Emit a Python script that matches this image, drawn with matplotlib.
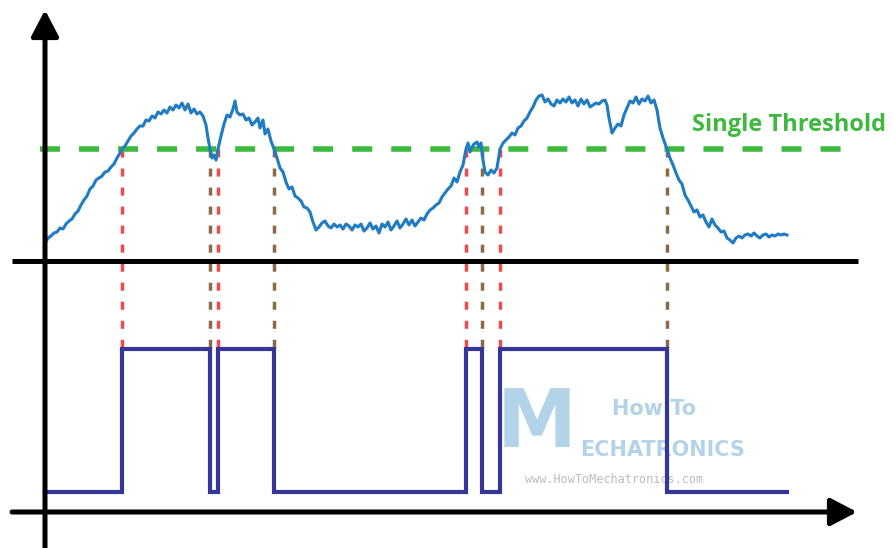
import matplotlib
matplotlib.use("Agg")
import matplotlib.pyplot as plt
import numpy as np

plt.rcParams["lines.scale_dashes"] = False

# Analog input signal (time, amplitude)
sig_t = [0, 3, 6, 9, 12, 15, 18, 21, 24, 27, 30, 33, 36, 39, 42, 45, 48, 51, 54, 57,
         60, 63, 66, 69, 72, 75, 77, 80, 83, 86, 89, 92, 95, 98, 101, 104, 107, 110, 113, 116,
         119, 122, 125, 128, 131, 134, 137, 140, 143, 146, 149, 152, 155, 158, 161, 163, 165, 167, 169, 171,
         173, 176, 179, 182, 185, 188, 190, 192, 195, 198, 201, 204, 207, 210, 213, 215, 218, 220, 223, 226,
         229, 232, 235, 238, 241, 244, 247, 250, 253, 256, 259, 262, 265, 268, 271, 274, 277, 280, 283, 286,
         289, 292, 295, 298, 301, 304, 307, 310, 313, 316, 319, 322, 325, 328, 331, 334, 337, 340, 343, 346,
         349, 352, 355, 358, 361, 364, 367, 370, 373, 376, 379, 382, 385, 388, 391, 394, 397, 400, 403, 406,
         409, 412, 415, 418, 421, 423, 425, 427, 429, 432, 434, 436, 438, 440, 443, 446, 449, 452, 455, 458,
         461, 464, 467, 470, 473, 476, 479, 482, 485, 488, 491, 494, 497, 500, 503, 506, 509, 512, 515, 518,
         521, 524, 527, 530, 533, 536, 539, 542, 545, 548, 551, 554, 557, 560, 562, 564, 567, 570, 573, 576,
         579, 582, 585, 588, 591, 594, 597, 600, 603, 606, 609, 612, 615, 618, 622, 625, 628, 631, 634, 637,
         640, 643, 646, 649, 652, 655, 658, 661, 664, 667, 670, 673, 676, 679, 682, 685, 688, 691, 694, 697,
         700, 703, 706, 709, 712, 715, 718, 721, 724, 727, 730, 733, 736, 739, 742]
sig_v = [18, 23, 25, 28, 29, 33, 32, 37, 40, 42, 47, 50, 56, 61, 65, 72, 75, 81, 83, 85,
         89, 90, 94, 97, 103, 108, 112, 115, 120, 125, 128, 132, 135, 135, 141, 140, 145, 143, 149, 147,
         151, 148, 154, 151, 156, 153, 158, 151, 157, 148, 152, 147, 149, 145, 136, 123, 112, 103, 106, 101,
         112, 125, 137, 146, 144, 152, 160, 149, 146, 147, 141, 143, 136, 139, 143, 133, 141, 127, 132, 120,
         112, 103, 93, 89, 79, 72, 74, 65, 63, 60, 54, 53, 49, 39, 31, 34, 38, 40, 35, 33,
         37, 34, 36, 32, 37, 35, 31, 36, 34, 37, 30, 33, 38, 32, 35, 28, 37, 34, 39, 31,
         35, 40, 33, 37, 42, 36, 41, 35, 39, 43, 41, 47, 51, 53, 56, 58, 64, 68, 72, 75,
         83, 79, 89, 96, 112, 118, 109, 114, 117, 119, 114, 118, 101, 89, 86, 91, 88, 93, 112, 118,
         121, 124, 128, 126, 133, 135, 140, 143, 149, 154, 161, 165, 166, 159, 162, 157, 155, 161, 158, 162,
         159, 164, 158, 161, 155, 162, 157, 161, 154, 156, 158, 157, 160, 161, 156, 143, 128, 133, 137, 135,
         146, 153, 160, 158, 164, 157, 162, 160, 165, 158, 161, 151, 133, 123, 112, 103, 96, 88, 81, 77,
         66, 61, 55, 49, 51, 44, 46, 39, 34, 42, 36, 33, 29, 30, 23, 21, 18, 23, 25, 23,
         26, 27, 25, 28, 25, 23, 26, 27, 24, 26, 25, 27, 26, 27, 26]

threshold = 112

# Threshold crossings of the input signal and the resulting digital output
rising_t = [77, 173, 421, 455]
falling_t = [165, 229, 437, 622]
edge_t = [0, 77, 165, 173, 229, 421, 437, 455, 622, 742]
edge_state = [0, 1, 0, 1, 0, 1, 0, 1, 0, 0]

label_text = "Single Threshold"

# Layout of the drawing (data units)
out_low, out_high = -231, -88
lower_axis_y = -251

fig = plt.figure(figsize=(8.95, 5.48), dpi=100)
ax = fig.add_axes([0, 0, 1, 1])
ax.set_xlim(-45, 850)
ax.set_ylim(-287, 261)
ax.axis("off")

# Watermark
wm_blue = "#b3d3e8"
ax.text(492, -164, "M", fontsize=58, fontweight="bold", color=wm_blue,
        ha="center", va="center", family="DejaVu Sans", zorder=1)
ax.text(609, -148, "How To", fontsize=15, fontweight="bold", color=wm_blue,
        ha="center", va="center", family="DejaVu Sans", zorder=1)
ax.text(535, -189, "ECHATRONICS", fontsize=15, fontweight="bold", color=wm_blue,
        ha="left", va="center", family="DejaVu Sans", zorder=1)
ax.text(569, -218, "www.HowToMechatronics.com", fontsize=8.5, color="#bcbcbc",
        ha="center", va="center", family="DejaVu Sans Mono", zorder=1)

# Axes with arrow heads
axis_lw = 3.6
arrow = "-|>,head_length=0.8,head_width=0.42"
ax.annotate("", xy=(0, 251), xytext=(0, -290),
            arrowprops=dict(arrowstyle=arrow, lw=axis_lw, color="black",
                            mutation_scale=20, shrinkA=0, shrinkB=0), zorder=5)
ax.annotate("", xy=(812, lower_axis_y), xytext=(-33, lower_axis_y),
            arrowprops=dict(arrowstyle=arrow, lw=axis_lw, color="black",
                            mutation_scale=20, shrinkA=0, shrinkB=0), zorder=5)
ax.plot([-33, 813], [0, 0], color="black", lw=axis_lw, solid_capstyle="butt", zorder=5)

# Threshold line and label
ax.plot([-5, 813], [threshold, threshold], color="#3dba3d", lw=4.0,
        dashes=(14.4, 13.7), dash_capstyle="butt", zorder=3)
ax.text(647, 136, label_text, fontsize=17, fontweight="bold", color="#3dba3d",
        ha="left", va="center", family=["Open Sans", "DejaVu Sans"], zorder=3)

# Dotted guides from each crossing to the output level
for t in rising_t:
    ax.plot([t, t], [threshold, out_high], color="#f04a4a", lw=2.5,
            dashes=(5.8, 7.9), dash_capstyle="butt", zorder=2)
for t in falling_t:
    ax.plot([t, t], [threshold, out_high], color="#8a6a48", lw=2.5,
            dashes=(5.8, 7.9), dash_capstyle="butt", zorder=2)

# Input signal
ax.plot(sig_t, sig_v, color="#1f7bc4", lw=2.2, solid_joinstyle="round", zorder=4)

# Digital output
levels = [out_high if s else out_low for s in edge_state]
ax.step(edge_t, levels, where="post", color="#35359a", lw=3.0,
        solid_joinstyle="miter", zorder=4)

fig.savefig("out.png", dpi=100)
